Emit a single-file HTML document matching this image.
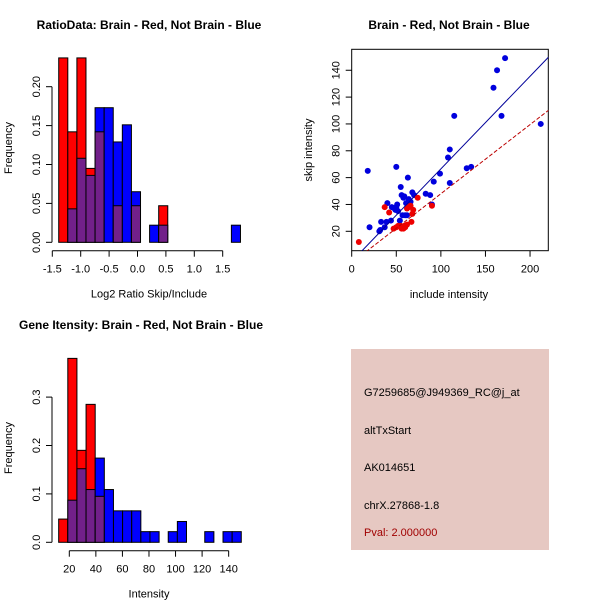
<!DOCTYPE html>
<html><head><meta charset="utf-8"><style>
body{margin:0;background:#fff}
svg{display:block;font-family:"Liberation Sans",sans-serif}
</style></head><body>
<svg id="c" width="600" height="600" viewBox="0 0 600 600">
<rect width="600" height="600" fill="#fff"/>
<g id="g1"></g>
<g id="g2"></g>
<g id="g3"></g>
<g>
<rect x="351" y="349" width="198" height="201" fill="#e6c8c2"/>
<text x="364" y="396" font-size="11" fill="#000">G7259685@J949369_RC@j_at</text>
<text x="364" y="434" font-size="11" fill="#000">altTxStart</text>
<text x="364" y="471" font-size="11" fill="#000">AK014651</text>
<text x="364" y="509" font-size="11" fill="#000">chrX.27868-1.8</text>
<text x="364" y="536" font-size="11" fill="#a00000">Pval: 2.000000</text>
</g>
</svg>
<script>
// Ratio histogram data
const ratioBinStart = -1.387, ratioBinWidth = 0.16;
const ratioRed  = [0.237,0.142,0.237,0.095,0.142,0,0.047,0,0.047,0,0,0.047,0,0,0,0,0,0,0,0];
const ratioBlue = [0,0.043,0.108,0.086,0.173,0.173,0.129,0.151,0.065,0,0.022,0.022,0,0,0,0,0,0,0,0.022];
const ratioXTicks = [-1.5,-1.0,-0.5,0.0,0.5,1.0,1.5];
const ratioXLabels = ["-1.5","-1.0","-0.5","0.0","0.5","1.0","1.5"];
const ratioYTicks = [0,0.05,0.10,0.15,0.20];
const ratioYLabels = ["0.00","0.05","0.10","0.15","0.20"];
// Intensity histogram data
const intBinStart = 12, intBinWidth = 6.875;
const intRed  = [0.048,0.38,0.19,0.285,0.095,0,0,0,0,0,0,0,0,0,0,0,0,0,0,0];
const intBlue = [0,0.087,0.152,0.109,0.174,0.109,0.065,0.065,0.065,0.022,0.022,0,0.022,0.043,0,0,0.022,0,0.022,0.022];
const intXTicks = [20,40,60,80,100,120,140];
const intXLabels = ["20","40","60","80","100","120","140"];
const intYTicks = [0,0.1,0.2,0.3];
const intYLabels = ["0.0","0.1","0.2","0.3"];
// Scatter data
const blueX = [18,20,31,32,33,37,39,40,44,45,48,49,50,50,51,52,54,55,56,57,58,59,60,61,62,63,64,66,68,70,83,88,90,92,99,108,110,110,115,129,134,159,163,168,172,212];
const blueY = [65,23,20,21,27,23,27,41,28,38,37,36,38,68,40,35,28,53,47,32,45,46,32,41,32,60,44,42,49,47,48,47,40,57,63,75,81,56,106,67,68,127,140,106,149,100];
const redX = [8,37,42,47,50,52,55,56,58,59,60,62,62,64,66,67,68,69,74,90];
const redY = [12,38,34,22,23,24,24,22,22,24,23,25,37,38,39,27,33,36,45,39];
const blueFit = [-2.5,0.69];
const redFit = [-3.5,0.515];
const scXTicks = [0,50,100,150,200];
const scYTicks = [20,40,60,80,100,120,140];

const NS="http://www.w3.org/2000/svg";
function mk(parent,tag,attrs,text){const e=document.createElementNS(NS,tag);for(const k in attrs)e.setAttribute(k,attrs[k]);if(text!==undefined)e.textContent=text;parent.appendChild(e);return e;}

function hist(g,o){
  const sx=v=>o.x0+(v-o.xv0)*o.xs, sy=v=>o.base-v*o.ys;
  mk(g,'text',{x:o.titleX,y:o.titleY,'font-size':12,'font-weight':'bold','text-anchor':'middle'},o.title);
  for(let i=0;i<o.red.length;i++){
    const l=sx(o.bs+i*o.bw), w=o.bw*o.xs, r=o.red[i], b=o.blue[i];
    const hi=Math.max(r,b), lo=Math.min(r,b);
    if(hi>0){const e=mk(g,'rect',{x:l,y:sy(hi),width:w,height:hi*o.ys,fill:r>=b?'#ff0000':'#0000ff',stroke:'#000','stroke-width':1});
      }
    if(lo>0){const e=mk(g,'rect',{x:l,y:sy(lo),width:w,height:lo*o.ys,fill:'#72208a',stroke:'#000','stroke-width':1});
      }
  }
  const yl=mk(g,'line',{x1:o.yAxisX,x2:o.yAxisX,y1:sy(o.yt[0]),y2:sy(o.yt[o.yt.length-1]),stroke:'#000'});
  
  o.yt.forEach((v,i)=>{mk(g,'line',{x1:o.yAxisX-6,x2:o.yAxisX,y1:sy(v),y2:sy(v),stroke:'#000'});
    const t=mk(g,'text',{x:0,y:0,'font-size':11,'text-anchor':'middle',transform:`translate(${o.yAxisX-12},${sy(v)}) rotate(-90)`},o.yl[i]);
    });
  const xl=mk(g,'line',{x1:sx(o.xt[0]),x2:sx(o.xt[o.xt.length-1]),y1:o.xAxisY,y2:o.xAxisY,stroke:'#000'});
  
  o.xt.forEach((v,i)=>{mk(g,'line',{x1:sx(v),x2:sx(v),y1:o.xAxisY,y2:o.xAxisY+6,stroke:'#000'});
    const t=mk(g,'text',{x:sx(v),y:o.xAxisY+22,'font-size':11,'text-anchor':'middle'},o.xl[i]);
    });
  const xt=mk(g,'text',{x:o.xTitleX,y:o.xAxisY+47,'font-size':11,'text-anchor':'middle'},o.xTitle);
  
  const yt=mk(g,'text',{x:0,y:0,'font-size':11,'text-anchor':'middle',transform:`translate(12,${o.yTitleY}) rotate(-90)`},'Frequency');
  
}
hist(document.getElementById('g1'),{x0:52.3,xv0:-1.5,xs:56.8,base:242.3,ys:778,bs:ratioBinStart,bw:ratioBinWidth,red:ratioRed,blue:ratioBlue,
  xt:ratioXTicks,xl:ratioXLabels,yt:ratioYTicks,yl:ratioYLabels,yAxisX:52,xAxisY:250.7,title:'RatioData: Brain - Red, Not Brain - Blue',titleX:149,titleY:29,xTitle:'Log2 Ratio Skip/Include',xTitleX:149,yTitleY:148});
hist(document.getElementById('g3'),{x0:69.3,xv0:20,xs:1.328,base:542.3,ys:484,bs:intBinStart,bw:intBinWidth,red:intRed,blue:intBlue,
  xt:intXTicks,xl:intXLabels,yt:intYTicks,yl:intYLabels,yAxisX:52,xAxisY:550.7,title:'Gene Itensity: Brain - Red, Not Brain - Blue',titleX:141,titleY:329,xTitle:'Intensity',xTitleX:149,yTitleY:448});

(function(){
  const g=document.getElementById('g2');
  const L=351.7,R=548.3,T=49.3,B=250.7;
  const sx=v=>351.7+v*0.8917, sy=v=>231.3-(v-20)*1.342;
  const t=mk(g,'text',{x:449,y:29,'font-size':12,'font-weight':'bold','text-anchor':'middle'},'Brain - Red, Not Brain - Blue');
  
  const fr=mk(g,'rect',{x:L,y:T,width:R-L,height:B-T,fill:'none',stroke:'#000'});
  
  const clip=mk(g,'clipPath',{id:'sc'});mk(clip,'rect',{x:L,y:T,width:R-L,height:B-T});
  const pg=mk(g,'g',{'clip-path':'url(#sc)'});
  blueX.forEach((x,i)=>{const c=mk(pg,'circle',{cx:sx(x),cy:sy(blueY[i]),r:3,fill:'#0000dd'});
    });
  redX.forEach((x,i)=>{const c=mk(pg,'circle',{cx:sx(x),cy:sy(redY[i]),r:3,fill:'#ee0000'});
    });
  const x0=0,x1=230;
  const bl=mk(pg,'line',{x1:sx(x0),y1:sy(blueFit[0]+blueFit[1]*x0),x2:sx(x1),y2:sy(blueFit[0]+blueFit[1]*x1),stroke:'#000099'});
  
  const rl=mk(pg,'line',{x1:sx(x0),y1:sy(redFit[0]+redFit[1]*x0),x2:sx(x1),y2:sy(redFit[0]+redFit[1]*x1),stroke:'#bb0000','stroke-dasharray':'4,2'});
  
  scXTicks.forEach(v=>{mk(g,'line',{x1:sx(v),x2:sx(v),y1:B,y2:B+6,stroke:'#000'});
    const e=mk(g,'text',{x:sx(v),y:B+22,'font-size':11,'text-anchor':'middle'},String(v));});
  scYTicks.forEach(v=>{mk(g,'line',{x1:L-6,x2:L,y1:sy(v),y2:sy(v),stroke:'#000'});
    const e=mk(g,'text',{x:0,y:0,'font-size':11,'text-anchor':'middle',transform:`translate(${L-12},${sy(v)}) rotate(-90)`},String(v));});
  const xt=mk(g,'text',{x:449,y:298,'font-size':11,'text-anchor':'middle'},'include intensity');
  const yt=mk(g,'text',{x:0,y:0,'font-size':11,'text-anchor':'middle',transform:'translate(312,150) rotate(-90)'},'skip intensity');
})();
</script>
</body></html>
